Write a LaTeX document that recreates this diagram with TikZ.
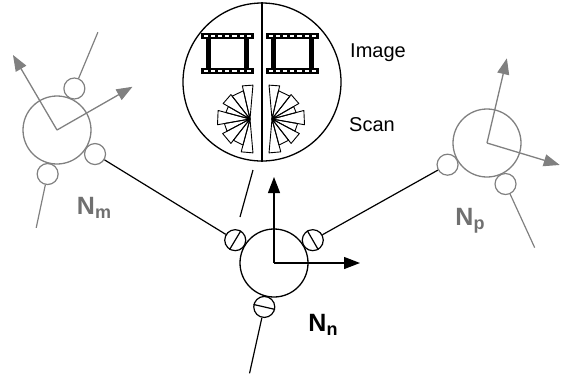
\documentclass[tikz,border=0pt]{standalone}
\usepackage{fontspec}
\setmainfont{Liberation Sans}
\usetikzlibrary{arrows.meta,calc}
\definecolor{nodegray}{RGB}{128,128,128}
\definecolor{labelgray}{RGB}{112,112,112}
\newcommand\nsub[1]{\raisebox{-0.3ex}{\fontsize{18}{18}\selectfont #1}}

\begin{document}
\begin{tikzpicture}[x=1pt,y=-1pt,
  blk/.style={line width=1.2pt,black},
  gry/.style={line width=1.2pt,nodegray},
  body/.style={circle,draw,line width=1.3pt,minimum size=68pt,inner sep=0pt},
  sensor/.style={circle,draw,line width=1.2pt,minimum size=21pt,inner sep=0pt,fill=white},
  axis/.style={-{Triangle[length=16pt,width=12pt]},line width=1.3pt},
  wedge/.style={line width=0.9pt,line join=round},
  lbl/.style={font=\fontsize{25}{28}\selectfont\bfseries,inner sep=0pt},
  captext/.style={font=\fontsize{20}{24}\selectfont,anchor=west,inner sep=0pt},
  film/.pic={
    % perforated bands
    \fill (0,0) rectangle (53,6);
    \fill (0,35) rectangle (53,41);
    \foreach \i in {0,...,6} {
      \fill[white] (2.6+7.2*\i,1.8) rectangle ++(4.2,2.6);
      \fill[white] (2.6+7.2*\i,36.8) rectangle ++(4.2,2.6);
    }
    % thick frame sides
    \fill (5,6) rectangle (10,35);
    \fill (43,6) rectangle (48,35);
  },
  fan/.pic={
    \foreach \a/\b/\r in {85/103/34, 103/128/29, 128/150/31, 150/165/25,
                          165/190/33, 190/208/26, 208/232/31, 232/255/27, 255/275/34}
      \draw[wedge] (0,0) -- (-\a:\r) -- (-\b:\r) -- cycle;
  }
]
\useasboundingbox (0,0) rectangle (563,376);

% ---- magnified view: image strips and scans ----
\node[circle,draw,line width=1.3pt,minimum size=158pt,inner sep=0pt] (mag) at (262,82) {};
\draw[blk] (mag.north) -- (mag.south);
\pic at (201,33) {film};
\pic at (266,33) {film};
\pic at (250,119) {fan};
\pic[xscale=-1] at (272,119) {fan};
\node[captext] (img) at (350,53) {Image};
\node[captext] (scn) at (349,125) {Scan};

% ---- node N_n ----
\node[body] (nn) at (274,263) {};
\node[sensor] (nnl) at ($(nn)+(-149.5:45)$) {};
\node[sensor] (nnr) at ($(nn)+(-30.5:45)$) {};
\node[sensor] (nnb) at ($(nn)+(-257.5:45)$) {};
\draw[blk] (nnl.59.5) -- (nnl.239.5);
\draw[blk] (nnr.120.5) -- (nnr.300.5);
\draw[blk] (nnb.167.5) -- (nnb.347.5);
\draw[axis] (nn.center) -- ++(0,-86);
\draw[axis] (nn.center) -- ++(86,0);
\coordinate (nnend) at ($(nn)+(-257.5:113)$);
\draw[blk] (nnb) -- (nnend);
\coordinate (pa) at (240,217);
\coordinate (pb) at (253,170);
\draw[blk] (pa) -- (pb);
\node[lbl] (ln) at (323,325) {N\nsub{n}};

% ---- node N_m ----
\node[body,draw=nodegray] (nm) at (57,130) {};
\node[sensor,draw=nodegray] (nmt) at ($(nm)+(-67.3:45)$) {};
\node[sensor,draw=nodegray] (nms) at ($(nm)+(32.3:45)$) {};
\node[sensor,draw=nodegray] (nmb) at ($(nm)+(-258:45)$) {};
\coordinate (nmtend) at ($(nm)+(-67.3:106)$);
\coordinate (nmbend) at ($(nm)+(-258:100)$);
\draw[gry] (nmt) -- (nmtend);
\draw[gry] (nmb) -- (nmbend);
\draw[axis,nodegray] (nm.center) -- ++(-120.4:87);
\draw[axis,nodegray] (nm.center) -- ++(-29.8:87);
\node[lbl,text=labelgray] (lm) at (94,208) {N\nsub{m}};

% ---- node N_p ----
\node[body,draw=nodegray] (np) at (487,143) {};
\node[sensor,draw=nodegray] (npl) at ($(np)+(-208.8:45)$) {};
\node[sensor,draw=nodegray] (npb) at ($(np)+(65.7:45)$) {};
\coordinate (npbend) at ($(np)+(65.5:115)$);
\draw[gry] (npb) -- (npbend);
\draw[axis,nodegray] (np.center) -- ++(-76.8:87);
\draw[axis,nodegray] (np.center) -- ++(16.8:76);
\node[lbl,text=labelgray] (lp) at (470,221) {N\nsub{p}};

% ---- links between nodes ----
\draw[blk] (nnl) -- (nms);
\draw[blk] (nnr) -- (npl);
\end{tikzpicture}
\end{document}
